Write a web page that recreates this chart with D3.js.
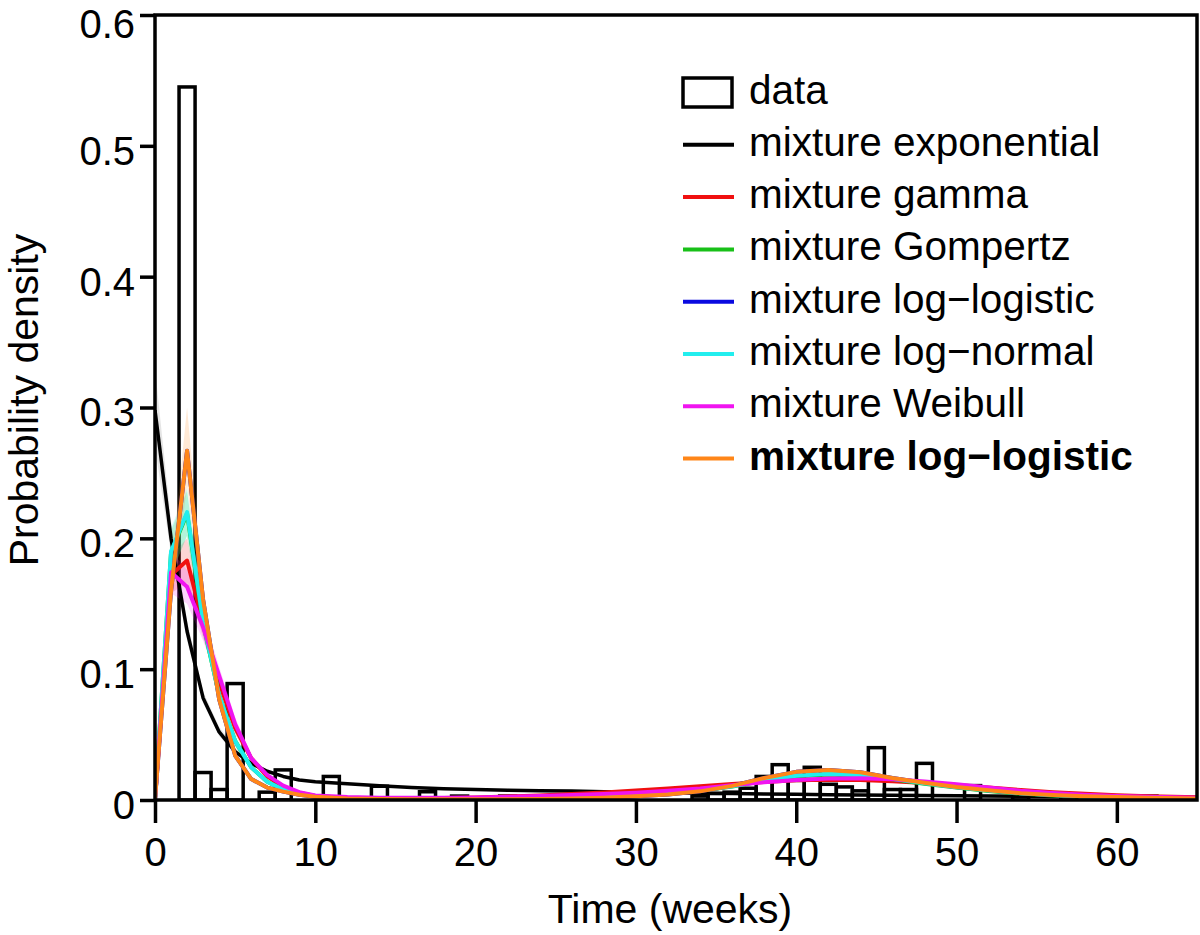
<!DOCTYPE html>
<html><head><meta charset="utf-8">
<script src="https://cdn.jsdelivr.net/npm/d3@7"></script>
<style>
body{margin:0;background:#fff}
svg{display:block}
text{font-family:"Liberation Sans",Arial,Helvetica,sans-serif;fill:#000}
</style>
</head><body>
<svg id="chart" width="1200" height="935"></svg>
<script>
// ---------- DATA ----------
const xTicks = [0, 10, 20, 30, 40, 50, 60];
const yTicks = [0, 0.1, 0.2, 0.3, 0.4, 0.5, 0.6];

// histogram (bins of 1 week centred on the week)
const histWeeks   = [2, 3, 4, 5, 7, 8, 11, 14, 17, 19, 22, 25, 34, 35, 36, 37, 38, 39, 40, 41, 42, 43, 44, 45, 46, 47, 48, 51, 54, 57, 62];
const histDensity = [0.545, 0.021, 0.008, 0.089, 0.006, 0.023, 0.018, 0.0105, 0.0063, 0.003, 0.003, 0.0025, 0.003, 0.005, 0.006, 0.009, 0.018, 0.027, 0.015, 0.025, 0.012, 0.010, 0.007, 0.040, 0.008, 0.008, 0.028, 0.011, 0.004, 0.003, 0.003];

// fitted densities, read at these weeks
const curveWeeks = [0,1,2,3,4,5,6,7,8,9,10,12,14,16,18,20,22,24,26,28,30,32,34,36,38,40,42,44,46,48,50,52,54,56,58,60,62,65];
const expMix   = [0.298,0.200,0.129,0.078,0.052,0.037,0.028,0.022,0.018,0.0153,0.0140,0.0125,0.0108,0.0095,0.0086,0.0080,0.0075,0.0071,0.0068,0.0063,0.0059,0.0055,0.0052,0.0049,0.0046,0.0043,0.0041,0.0038,0.0036,0.0034,0.0032,0.0030,0.0028,0.0027,0.0025,0.0024,0.0022,0.0020];
const gammaMix = [0,0.172,0.183,0.135,0.090,0.055,0.032,0.018,0.010,0.0055,0.0030,0.0015,0.0012,0.0013,0.0016,0.0020,0.0026,0.0034,0.0045,0.0058,0.0072,0.0088,0.0105,0.0122,0.0138,0.0150,0.0155,0.0152,0.0143,0.0130,0.0115,0.0095,0.0076,0.0060,0.0047,0.0037,0.0029,0.0021];
const gompMix  = [0,0.189,0.219,0.135,0.080,0.045,0.025,0.014,0.0078,0.0048,0.0029,0.0014,0.0010,0.0008,0.0008,0.0009,0.0010,0.0013,0.0018,0.0025,0.0035,0.0050,0.0071,0.0103,0.0145,0.0180,0.0194,0.0185,0.0158,0.0125,0.0095,0.0069,0.0049,0.0035,0.0025,0.0018,0.0013,0.0008];
const llogMix  = [0,0.160,0.267,0.153,0.077,0.034,0.016,0.0095,0.0064,0.0040,0.0025,0.0012,0.0008,0.0006,0.0005,0.0005,0.0006,0.0008,0.0012,0.0018,0.0028,0.0042,0.0066,0.0108,0.0168,0.0215,0.0230,0.0212,0.0168,0.0132,0.0100,0.0074,0.0052,0.0038,0.0029,0.0022,0.0017,0.0012];
const lnormMix = [0,0.190,0.220,0.136,0.080,0.045,0.025,0.014,0.008,0.0050,0.0030,0.0015,0.0010,0.0008,0.0008,0.0009,0.0010,0.0013,0.0018,0.0025,0.0035,0.0050,0.0072,0.0105,0.0148,0.0185,0.0200,0.0190,0.0162,0.0128,0.0098,0.0072,0.0052,0.0038,0.0028,0.0021,0.0016,0.0011];
const weibMix  = [0,0.174,0.163,0.132,0.095,0.058,0.032,0.019,0.011,0.0060,0.0035,0.0022,0.0018,0.0017,0.0018,0.0020,0.0024,0.0030,0.0038,0.0046,0.0056,0.0070,0.0088,0.0112,0.0135,0.0152,0.0165,0.0166,0.0158,0.0142,0.0120,0.0095,0.0070,0.0053,0.0041,0.0031,0.0024,0.0017];
const llogSel  = [0,0.160,0.267,0.153,0.077,0.034,0.016,0.0095,0.0064,0.0040,0.0025,0.0012,0.0008,0.0006,0.0005,0.0005,0.0006,0.0008,0.0012,0.0018,0.0028,0.0042,0.0066,0.0108,0.0168,0.0215,0.0230,0.0212,0.0168,0.0132,0.0100,0.0074,0.0052,0.0038,0.0029,0.0022,0.0017,0.0012];

// confidence bands near the early peak
const bandWeeks = [0,1,2,3,4,5,6];
const expLo   = [0.270,0.188,0.122,0.074,0.049,0.035,0.026];
const expHi   = [0.330,0.213,0.137,0.083,0.056,0.040,0.030];
const gammaLo = [0,0.158,0.166,0.124,0.083,0.050,0.029];
const gammaHi = [0,0.186,0.200,0.146,0.097,0.060,0.035];
const gompLo  = [0,0.172,0.202,0.127,0.075,0.041,0.023];
const gompHi  = [0,0.206,0.236,0.143,0.085,0.049,0.027];
const lnormLo = [0,0.172,0.202,0.127,0.074,0.041,0.023];
const lnormHi = [0,0.208,0.238,0.145,0.086,0.049,0.027];
const weibLo  = [0,0.158,0.150,0.122,0.088,0.053,0.029];
const weibHi  = [0,0.190,0.176,0.142,0.102,0.063,0.035];
const llogLo  = [0,0.145,0.240,0.142,0.071,0.031,0.015];
const llogHi  = [0,0.176,0.300,0.165,0.083,0.037,0.018];

const seriesNames  = ["mixture exponential","mixture gamma","mixture Gompertz","mixture log\u2212logistic","mixture log\u2212normal","mixture Weibull","mixture log\u2212logistic"];
const seriesColors = ["#000000","#f01010","#18c018","#0a0ae0","#22eeee","#f014f0","#ff8618"];

// ---------- CHART ----------
const svg = d3.select("#chart");
const x = d3.scaleLinear().domain([0, 65]).range([155, 1197]);
const y = d3.scaleLinear().domain([0, 0.6]).range([800, 15]);

const series = [
  {vals: expMix,   lo: expLo,   hi: expHi},
  {vals: gammaMix, lo: gammaLo, hi: gammaHi},
  {vals: gompMix,  lo: gompLo,  hi: gompHi},
  {vals: llogMix,  lo: null,    hi: null},
  {vals: lnormMix, lo: lnormLo, hi: lnormHi},
  {vals: weibMix,  lo: weibLo,  hi: weibHi},
  {vals: llogSel,  lo: llogLo,  hi: llogHi}
].map((s, i) => ({...s, name: seriesNames[i], color: seriesColors[i], bold: i === 6}));

// clip
svg.append("clipPath").attr("id","clip").append("rect")
  .attr("x", x(0)).attr("y", y(0.6)).attr("width", x(65)-x(0)).attr("height", y(0)-y(0.6));

const plot = svg.append("g").attr("clip-path","url(#clip)");

// histogram
plot.append("g").selectAll("rect").data(histWeeks.map((w,i)=>({w, v: histDensity[i]})))
  .join("rect")
  .attr("x", d => x(d.w - 0.5))
  .attr("width", d => x(d.w + 0.5) - x(d.w - 0.5))
  .attr("y", d => y(d.v))
  .attr("height", d => y(0) - y(d.v))
  .attr("fill", "none").attr("stroke", "#000").attr("stroke-width", 3.5);

// bands
const area = d3.area().x(d => x(d.t)).y0(d => y(d.lo)).y1(d => y(d.hi));
series.forEach(s => {
  if (!s.lo) return;
  plot.append("path")
    .datum(bandWeeks.map((t,i)=>({t, lo: s.lo[i], hi: s.hi[i]})))
    .attr("d", area)
    .attr("fill", s.color).attr("fill-opacity", s.color === "#000000" ? 0.1 : 0.18)
    .attr("stroke", "none");
});

// curves
const line = d3.line().x(d => x(d.t)).y(d => y(d.v));
series.forEach((s, i) => {
  plot.append("path")
    .datum(curveWeeks.map((t,k)=>({t, v: s.vals[k]})))
    .attr("d", line)
    .attr("fill","none")
    .attr("stroke", s.color)
    .attr("stroke-width", i === 0 ? 3.5 : 4)
    .attr("stroke-linejoin","round");
});

// box
svg.append("rect").attr("x", x(0)).attr("y", y(0.6))
  .attr("width", x(65)-x(0)).attr("height", y(0)-y(0.6))
  .attr("fill","none").attr("stroke","#000").attr("stroke-width",3.5);

// axes
const yAxis = svg.append("g").attr("transform", `translate(${x(0)},0)`)
  .call(d3.axisLeft(y).tickValues(yTicks).tickSize(15).tickPadding(5)
    .tickFormat(d => d === 0 ? "0" : d3.format(".1f")(d)));
yAxis.select(".domain").remove();
yAxis.selectAll(".tick line").attr("stroke","#000").attr("stroke-width",3.5);
yAxis.selectAll(".tick text").attr("font-size", 40)
  .attr("dy", d => d === 0.6 ? "0.57em" : "0.46em")
  .style("font-family", "'Liberation Sans', Arial, sans-serif");

const xAxis = svg.append("g").attr("transform", `translate(0,${y(0)})`)
  .call(d3.axisBottom(x).tickValues(xTicks).tickSize(23).tickFormat(d3.format("d")));
xAxis.select(".domain").remove();
xAxis.selectAll(".tick line").attr("stroke","#000").attr("stroke-width",3.5);
xAxis.selectAll(".tick text").attr("font-size", 40).attr("y", 66).attr("dy", 0)
  .style("font-family", "'Liberation Sans', Arial, sans-serif");

// axis titles
svg.append("text").attr("x", (x(0)+x(65))/2 - 6).attr("y", 923).attr("text-anchor","middle")
  .attr("font-size", 41).text("Time (weeks)");
svg.append("text").attr("transform", "translate(38,400) rotate(-90)").attr("text-anchor","middle")
  .attr("font-size", 41).text("Probability density");

// legend
const lg = svg.append("g");
const rowY0 = 92.5, rowStep = 52.3;
lg.append("rect").attr("x", 683).attr("y", rowY0 - 14.5).attr("width", 49).attr("height", 29)
  .attr("fill","none").attr("stroke","#000").attr("stroke-width",3.5);
lg.append("text").attr("x", 749).attr("y", rowY0 + 11).attr("font-size", 40.5).text("data");
series.forEach((s, i) => {
  const yy = rowY0 + rowStep * (i + 1);
  lg.append("line").attr("x1", 683).attr("x2", 734).attr("y1", yy).attr("y2", yy)
    .attr("stroke", s.color).attr("stroke-width", 4);
  lg.append("text").attr("x", 749).attr("y", yy + 11).attr("font-size", 40.5)
    .attr("font-weight", s.bold ? "bold" : "normal").text(s.name);
});
</script>
</body></html>
